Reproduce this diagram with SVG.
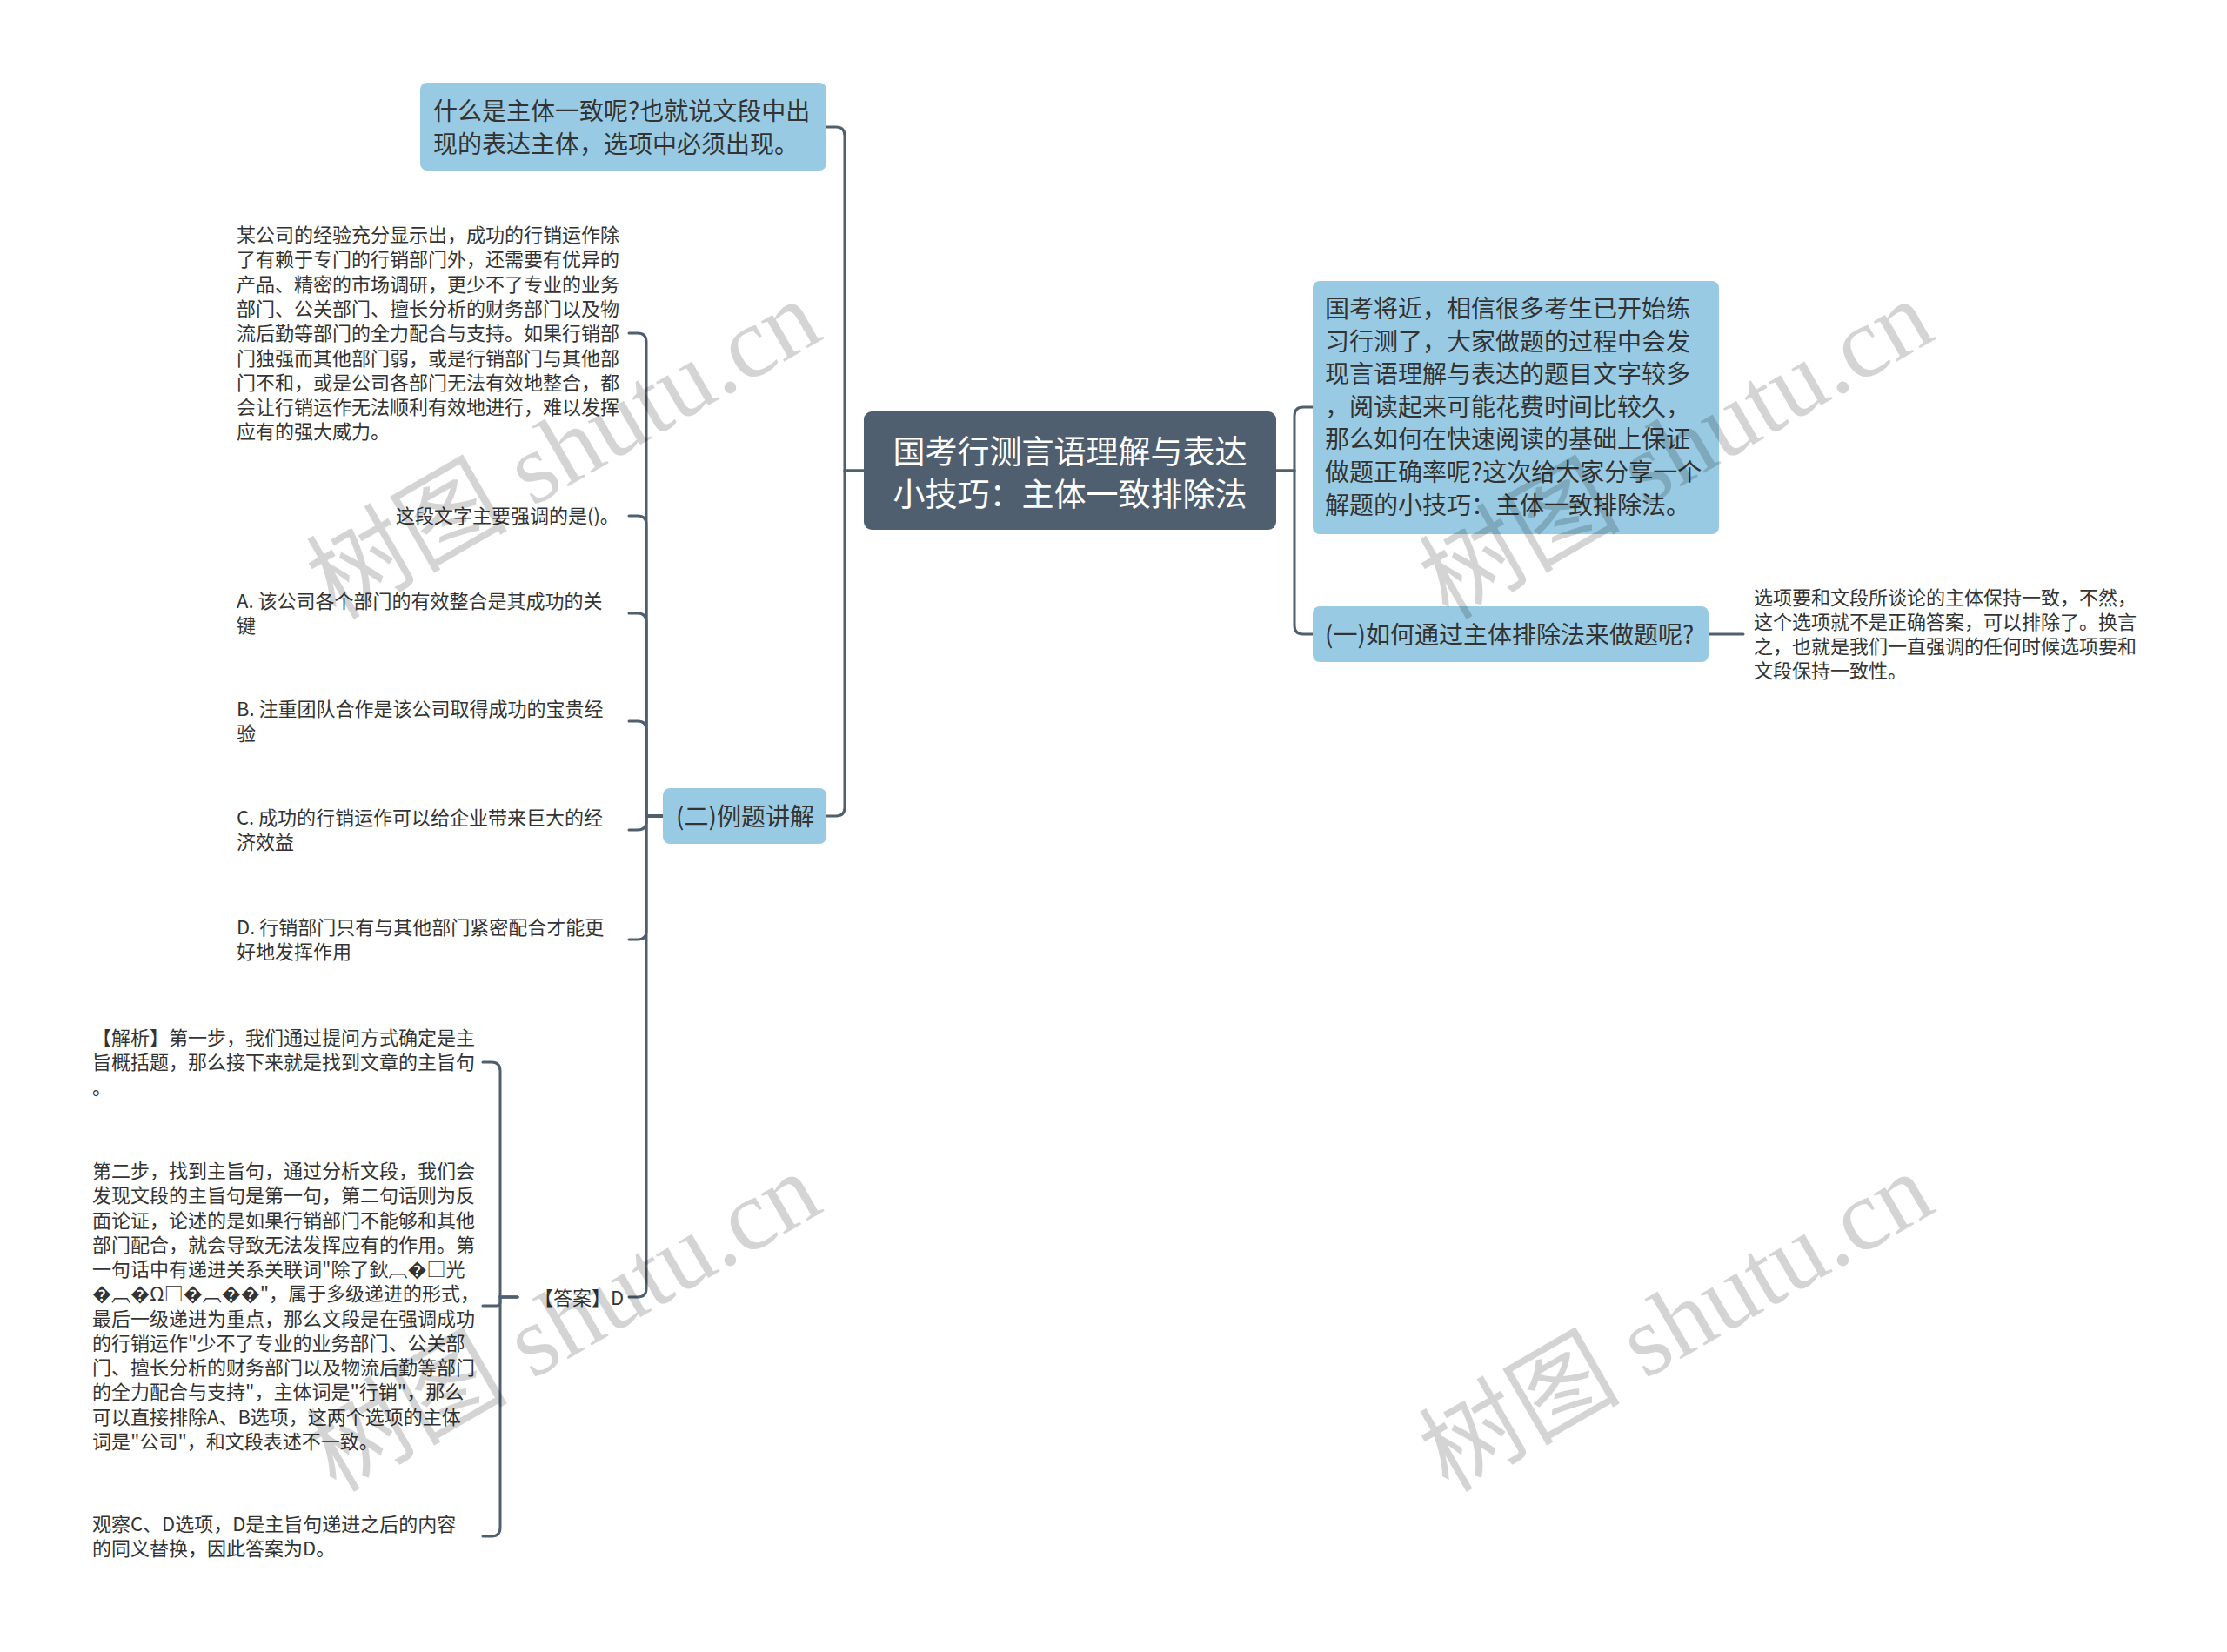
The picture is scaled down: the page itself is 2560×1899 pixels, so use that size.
<svg xmlns="http://www.w3.org/2000/svg" width="2560" height="1899" viewBox="0 0 2560 1899">
<style>
.t{font-family:"Noto Sans CJK SC","Noto Sans",sans-serif;fill:#333;dominant-baseline:central}
.s22{font-size:22px}
.s28{font-size:28px}
.root{font-family:"Noto Sans CJK SC","Noto Sans",sans-serif;font-size:37px;fill:#fff;dominant-baseline:central}
.blue{fill:#98cbe3}
.conn path{fill:none;stroke:#4f5f6e;stroke-width:3;stroke-linecap:round}
.wm{font-family:"Liberation Serif","Noto Sans CJK SC",serif;font-size:116px;fill:#000;fill-opacity:0.17}
</style>
<rect width="2560" height="1899" fill="#fff"/>

<g class="conn" id="connectors">
<path d="M993,541 H971 V156 Q971,146 961,146 H950"/>
<path d="M993,541 H971 V928 Q971,938 961,938 H950"/>
<path d="M1467,541 H1488 V478 Q1488,468 1498,468 H1509"/>
<path d="M1467,541 H1488 V719 Q1488,729 1498,729 H1509"/>
<path d="M1964,729 H2004"/>
<path d="M762,938 H743 V393 Q743,383 733,383 H723"/>
<path d="M762,938 H743 V603 Q743,593 733,593 H723"/>
<path d="M762,938 H743 V715 Q743,705 733,705 H723"/>
<path d="M762,938 H743 V839 Q743,829 733,829 H723"/>
<path d="M762,938 H743 V944 Q743,954 733,954 H723"/>
<path d="M762,938 H743 V1070 Q743,1080 733,1080 H723"/>
<path d="M762,938 H743 V1481 Q743,1491 733,1491 H723"/>
<path d="M595,1491 H575 V1231 Q575,1221 565,1221 H555"/>
<path d="M595,1491 H575 V1497 Q575,1501 571,1501 H555"/>
<path d="M595,1491 H575 V1756 Q575,1766 565,1766 H555"/>
</g>

<g id="root">
<rect x="993" y="473" width="474" height="136" rx="9" fill="#505f6f"/>
<text class="root" x="1230" y="517" text-anchor="middle">国考行测言语理解与表达</text>
<text class="root" x="1230" y="566" text-anchor="middle">小技巧：主体一致排除法</text>
</g>

<g id="n-what">
<rect class="blue" x="483" y="95" width="467" height="101" rx="8"/>
<text class="t s28" x="498" y="126">什么是主体一致呢?也就说文段中出</text>
<text class="t s28" x="498" y="164">现的表达主体，选项中必须出现。</text>
</g>

<g id="n-intro">
<rect class="blue" x="1509" y="323" width="467" height="291" rx="8"/>
<text class="t s28" x="1523" y="353">国考将近，相信很多考生已开始练</text>
<text class="t s28" x="1523" y="391">习行测了，大家做题的过程中会发</text>
<text class="t s28" x="1523" y="428">现言语理解与表达的题目文字较多</text>
<text class="t s28" x="1523" y="466">，阅读起来可能花费时间比较久，</text>
<text class="t s28" x="1523" y="503">那么如何在快速阅读的基础上保证</text>
<text class="t s28" x="1523" y="541">做题正确率呢?这次给大家分享一个</text>
<text class="t s28" x="1523" y="579">解题的小技巧：主体一致排除法。</text>
</g>

<g id="n-how">
<rect class="blue" x="1509" y="697" width="455" height="64" rx="8"/>
<text class="t s28" x="1523" y="728">(一)如何通过主体排除法来做题呢?</text>
</g>

<g id="n-how-text">
<text class="t s22" x="2016" y="685">选项要和文段所谈论的主体保持一致，不然，</text>
<text class="t s22" x="2016" y="713">这个选项就不是正确答案，可以排除了。换言</text>
<text class="t s22" x="2016" y="741">之，也就是我们一直强调的任何时候选项要和</text>
<text class="t s22" x="2016" y="769">文段保持一致性。</text>
</g>

<g id="n-example">
<rect class="blue" x="762" y="906" width="188" height="64" rx="8"/>
<text class="t s28" x="777" y="937">(二)例题讲解</text>
</g>

<g id="n-passage">
<text class="t s22" x="272" y="268">某公司的经验充分显示出，成功的行销运作除</text>
<text class="t s22" x="272" y="296">了有赖于专门的行销部门外，还需要有优异的</text>
<text class="t s22" x="272" y="325">产品、精密的市场调研，更少不了专业的业务</text>
<text class="t s22" x="272" y="353">部门、公关部门、擅长分析的财务部门以及物</text>
<text class="t s22" x="272" y="381">流后勤等部门的全力配合与支持。如果行销部</text>
<text class="t s22" x="272" y="410">门独强而其他部门弱，或是行销部门与其他部</text>
<text class="t s22" x="272" y="438">门不和，或是公司各部门无法有效地整合，都</text>
<text class="t s22" x="272" y="466">会让行销运作无法顺利有效地进行，难以发挥</text>
<text class="t s22" x="272" y="494">应有的强大威力。</text>
</g>

<g id="n-question">
<text class="t s22" x="455" y="591">这段文字主要强调的是()。</text>
</g>

<g id="n-a">
<text class="t s22" x="272" y="689">A. 该公司各个部门的有效整合是其成功的关</text>
<text class="t s22" x="272" y="717">键</text>
</g>
<g id="n-b">
<text class="t s22" x="272" y="813">B. 注重团队合作是该公司取得成功的宝贵经</text>
<text class="t s22" x="272" y="841">验</text>
</g>
<g id="n-c">
<text class="t s22" x="272" y="938">C. 成功的行销运作可以给企业带来巨大的经</text>
<text class="t s22" x="272" y="966">济效益</text>
</g>
<g id="n-d">
<text class="t s22" x="272" y="1064">D. 行销部门只有与其他部门紧密配合才能更</text>
<text class="t s22" x="272" y="1092">好地发挥作用</text>
</g>

<g id="n-answer">
<text class="t s22" x="614" y="1490">【答案】D</text>
</g>

<g id="n-analysis1">
<text class="t s22" x="106" y="1191">【解析】第一步，我们通过提问方式确定是主</text>
<text class="t s22" x="106" y="1219">旨概括题，那么接下来就是找到文章的主旨句</text>
<text class="t s22" x="106" y="1248">。</text>
</g>

<g id="n-analysis2">
<text class="t s22" x="106" y="1344">第二步，找到主旨句，通过分析文段，我们会</text>
<text class="t s22" x="106" y="1372">发现文段的主旨句是第一句，第二句话则为反</text>
<text class="t s22" x="106" y="1401">面论证，论述的是如果行销部门不能够和其他</text>
<text class="t s22" x="106" y="1429">部门配合，就会导致无法发挥应有的作用。第</text>
<text class="t s22" x="106" y="1457">一句话中有递进关系关联词"除了鈥︹�□光</text>
<text class="t s22" x="106" y="1485">�︹�Ω□�︹��"，属于多级递进的形式，</text>
<text class="t s22" x="106" y="1514">最后一级递进为重点，那么文段是在强调成功</text>
<text class="t s22" x="106" y="1542">的行销运作"少不了专业的业务部门、公关部</text>
<text class="t s22" x="106" y="1570">门、擅长分析的财务部门以及物流后勤等部门</text>
<text class="t s22" x="106" y="1598">的全力配合与支持"，主体词是"行销"，那么</text>
<text class="t s22" x="106" y="1627">可以直接排除A、B选项，这两个选项的主体</text>
<text class="t s22" x="106" y="1655">词是"公司"，和文段表述不一致。</text>
</g>

<g id="n-analysis3">
<text class="t s22" x="106" y="1750">观察C、D选项，D是主旨句递进之后的内容</text>
<text class="t s22" x="106" y="1778">的同义替换，因此答案为D。</text>
</g>

<g id="watermarks">
<text class="wm" x="648" y="517" text-anchor="middle" dominant-baseline="central" transform="rotate(-30 648 517)">树图 shutu.cn</text>
<text class="wm" x="1927" y="517" text-anchor="middle" dominant-baseline="central" transform="rotate(-30 1927 517)">树图 shutu.cn</text>
<text class="wm" x="648" y="1520" text-anchor="middle" dominant-baseline="central" transform="rotate(-30 648 1520)">树图 shutu.cn</text>
<text class="wm" x="1927" y="1520" text-anchor="middle" dominant-baseline="central" transform="rotate(-30 1927 1520)">树图 shutu.cn</text>
</g>
</svg>
